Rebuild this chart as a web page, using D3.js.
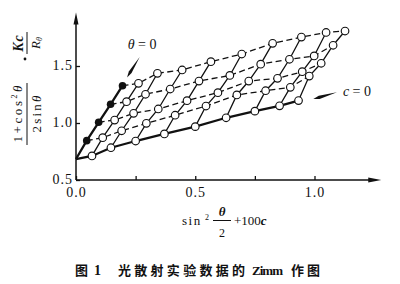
<!DOCTYPE html>
<html>
<head>
<meta charset="utf-8">
<script src="https://cdn.jsdelivr.net/npm/d3@7"></script>
<style>
  body { margin: 0; background: #fff; }
  text { font-family: "Liberation Serif", "DejaVu Serif", serif; fill: #111; }
  text.cap { font-family: "Noto Sans CJK SC", sans-serif; font-weight: bold; }
</style>
</head>
<body>
<svg id="chart" width="400" height="284"></svg>
<script>
// scattering angles (deg) and concentrations (given as 100c)
const thetaDeg = [30, 45, 60, 75, 90, 105, 120, 135, 150];
const conc = [0.045, 0.095, 0.145, 0.195];

// (1+cos²θ)/(2sinθ) · Kc/Rθ, one row per concentration
const kcRow1 = [0.871, 0.932, 0.997, 1.068, 1.149, 1.246, 1.283, 1.313, 1.412];
const kcRow2 = [1.026, 1.085, 1.123, 1.196, 1.266, 1.368, 1.392, 1.450, 1.524];
const kcRow3 = [1.187, 1.252, 1.298, 1.368, 1.417, 1.516, 1.559, 1.588, 1.682];
const kcRow4 = [1.348, 1.436, 1.465, 1.538, 1.605, 1.699, 1.754, 1.794, 1.807];
const kcRows = [kcRow1, kcRow2, kcRow3, kcRow4];

// extrapolations
const kcZeroConc = [0.711, 0.783, 0.842, 0.904, 0.968, 1.046, 1.104, 1.151, 1.197]; // c = 0
const kcZeroTheta = [0.845, 1.006, 1.164, 1.327];                                   // θ = 0
const intercept = 0.684;

const xTicks = [0, 0.25, 0.5, 0.75, 1.0];
const yTicks = [0.5, 1.0, 1.5];

const svg = d3.select("#chart");
const x = d3.scaleLinear().domain([0, 1]).range([76, 314.5]);
const y = d3.scaleLinear().domain([0.5, 1.5]).range([180, 66]);

const s2 = thetaDeg.map(t => Math.pow(Math.sin(t * Math.PI / 360), 2));

/// axes
svg.append("g")
  .attr("transform", "translate(0," + y(0.5) + ")")
  .call(d3.axisBottom(x).tickValues(xTicks).tickSize(-4).tickPadding(7)
    .tickFormat(d => (d * 2) % 1 === 0 ? d.toFixed(1) : ""))
  .call(g => g.select(".domain").remove())
  .call(g => g.selectAll("text").attr("font-size", 14).attr("letter-spacing", 1));

svg.append("g")
  .attr("transform", "translate(" + x(0) + ",0)")
  .call(d3.axisLeft(y).tickValues(yTicks).tickSize(-4).tickPadding(3)
    .tickFormat(d3.format(".1f")))
  .call(g => g.select(".domain").remove())
  .call(g => g.selectAll("text").attr("font-size", 14).attr("letter-spacing", 1).attr("dy", "0.22em"));

svg.selectAll(".tick line").attr("stroke", "#111").attr("stroke-width", 1.3);

// axis lines with arrows
const xEnd = x(1.28), yTop = y(1.97);
svg.append("line").attr("x1", x(0)).attr("y1", y(0.5)).attr("x2", xEnd - 6).attr("y2", y(0.5))
  .attr("stroke", "#111").attr("stroke-width", 1.5);
svg.append("path").attr("d", `M${xEnd},${y(0.5)} L${xEnd - 13},${y(0.5) - 2.5} L${xEnd - 13},${y(0.5) + 2.5} Z`)
  .attr("fill", "#111");
svg.append("line").attr("x1", x(0)).attr("y1", y(0.5)).attr("x2", x(0)).attr("y2", yTop + 6)
  .attr("stroke", "#111").attr("stroke-width", 1.5);
svg.append("path").attr("d", `M${x(0)},${yTop} L${x(0) - 2.5},${yTop + 12} L${x(0) + 2.5},${yTop + 12} Z`)
  .attr("fill", "#111");

/// grid lines
const line = d3.line().x(d => x(d[0])).y(d => y(d[1]));

// constant c (dashed), starting at the θ = 0 point
conc.forEach((c, i) => {
  const pts = [[c, kcZeroTheta[i]]].concat(s2.map((s, j) => [s + c, kcRows[i][j]]));
  svg.append("path").attr("d", line(pts)).attr("fill", "none")
    .attr("stroke", "#111").attr("stroke-width", 1.3).attr("stroke-dasharray", "6,3.5");
});

// constant θ (solid)
s2.forEach((s, j) => {
  const pts = [[s, kcZeroConc[j]]].concat(conc.map((c, i) => [s + c, kcRows[i][j]]));
  svg.append("path").attr("d", line(pts)).attr("fill", "none")
    .attr("stroke", "#111").attr("stroke-width", 1.3);
});

// θ = 0 and c = 0 lines (heavy)
svg.append("path").attr("d", line([[0, intercept]].concat(conc.map((c, i) => [c, kcZeroTheta[i]]))))
  .attr("fill", "none").attr("stroke", "#111").attr("stroke-width", 2.3);
svg.append("path").attr("d", line([[0, intercept]].concat(s2.map((s, j) => [s, kcZeroConc[j]]))))
  .attr("fill", "none").attr("stroke", "#111").attr("stroke-width", 2.3);

/// points
const hollow = [];
s2.forEach((s, j) => hollow.push([s, kcZeroConc[j]]));
conc.forEach((c, i) => s2.forEach((s, j) => hollow.push([s + c, kcRows[i][j]])));

svg.selectAll(".open").data(hollow).enter().append("circle")
  .attr("cx", d => x(d[0])).attr("cy", d => y(d[1])).attr("r", 3.8)
  .attr("fill", "#fff").attr("stroke", "#111").attr("stroke-width", 1.15);

svg.selectAll(".full").data(conc).enter().append("circle")
  .attr("cx", d => x(d)).attr("cy", (d, i) => y(kcZeroTheta[i])).attr("r", 3.8)
  .attr("fill", "#111");

/// annotations
function wedge(x0, y0, x1, y1, w) {
  // thin tail at (x0,y0), broad tip at (x1,y1)
  const dx = x1 - x0, dy = y1 - y0, len = Math.hypot(dx, dy);
  const nx = -dy / len * w, ny = dx / len * w;
  return `M${x0},${y0} L${x1 - dx * 0.25 + nx},${y1 - dy * 0.25 + ny} L${x1},${y1} L${x1 - dx * 0.25 - nx},${y1 - dy * 0.25 - ny} Z`;
}
svg.append("path").attr("d", wedge(x(0.267), y(1.58), x(0.214), y(1.40), 1.6)).attr("fill", "#111");
svg.append("path").attr("d", wedge(x(1.094), y(1.27), x(0.995), y(1.21), 1.6)).attr("fill", "#111");

svg.append("text").attr("x", x(0.277)).attr("y", y(1.65)).attr("text-anchor", "middle")
  .attr("font-size", 14)
  .html('<tspan font-style="italic">θ</tspan> = 0');
svg.append("text").attr("x", x(1.178)).attr("y", y(1.24)).attr("text-anchor", "middle")
  .attr("font-size", 14)
  .html('<tspan font-style="italic">c</tspan> = 0');

/// axis titles
const xt = svg.append("g");
xt.append("text").attr("x", 182).attr("y", 225).attr("font-size", 13).attr("letter-spacing", 1.5).text("sin");
xt.append("text").attr("x", 205).attr("y", 220).attr("font-size", 8).text("2");
xt.append("text").attr("x", 222).attr("y", 216).attr("font-size", 13).attr("text-anchor", "middle")
  .attr("font-style", "italic").attr("font-weight", "bold").text("θ");
xt.append("line").attr("x1", 213).attr("x2", 231).attr("y1", 220.5).attr("y2", 220.5)
  .attr("stroke", "#111").attr("stroke-width", 1);
xt.append("text").attr("x", 222).attr("y", 237).attr("font-size", 12).attr("text-anchor", "middle").text("2");
xt.append("text").attr("x", 234).attr("y", 225).attr("font-size", 13)
  .html('+100<tspan font-style="italic" font-weight="bold">c</tspan>');

const yt1 = svg.append("g").attr("transform", "translate(27,114) rotate(-90)");
yt1.append("text").attr("x", 0).attr("y", -5).attr("font-size", 13).attr("text-anchor", "middle")
  .attr("textLength", 57).attr("lengthAdjust", "spacing")
  .html('1+cos<tspan font-size="8" dy="-5">2</tspan><tspan dy="5" font-style="italic">θ</tspan>');
yt1.append("line").attr("x1", -31).attr("x2", 31).attr("stroke", "#111").attr("stroke-width", 1);
yt1.append("text").attr("x", 0).attr("y", 14).attr("font-size", 13).attr("text-anchor", "middle")
  .attr("textLength", 37).attr("lengthAdjust", "spacing")
  .html('2sin<tspan font-style="italic">θ</tspan>');

svg.append("circle").attr("cx", 25).attr("cy", 59).attr("r", 1.4).attr("fill", "#111");

const yt2 = svg.append("g").attr("transform", "translate(27,43) rotate(-90)");
yt2.append("text").attr("x", 0).attr("y", -4).attr("font-size", 14).attr("text-anchor", "middle")
  .attr("font-weight", "bold").attr("font-style", "italic").attr("letter-spacing", 1).text("Kc");
yt2.append("line").attr("x1", -11).attr("x2", 11).attr("stroke", "#111").attr("stroke-width", 1);
yt2.append("text").attr("x", 0).attr("y", 13).attr("font-size", 13).attr("text-anchor", "middle")
  .attr("font-style", "italic")
  .html('R<tspan font-size="8" dy="2">θ</tspan>');

/// caption
const cap = svg.append("g");
cap.append("text").attr("class", "cap").attr("x", 75).attr("y", 275).attr("font-size", 13).text("图");
cap.append("text").attr("x", 94).attr("y", 275).attr("font-size", 14).attr("font-weight", "bold").text("1");
cap.append("text").attr("class", "cap").attr("x", 118).attr("y", 275).attr("font-size", 13)
  .attr("textLength", 127).attr("lengthAdjust", "spacing").text("光散射实验数据的");
cap.append("text").attr("x", 252).attr("y", 275).attr("font-size", 13).attr("font-weight", "bold")
  .attr("textLength", 31).attr("lengthAdjust", "spacing").text("Zimm");
cap.append("text").attr("class", "cap").attr("x", 291).attr("y", 275).attr("font-size", 13)
  .attr("letter-spacing", 3).text("作图");
</script>
</body>
</html>
